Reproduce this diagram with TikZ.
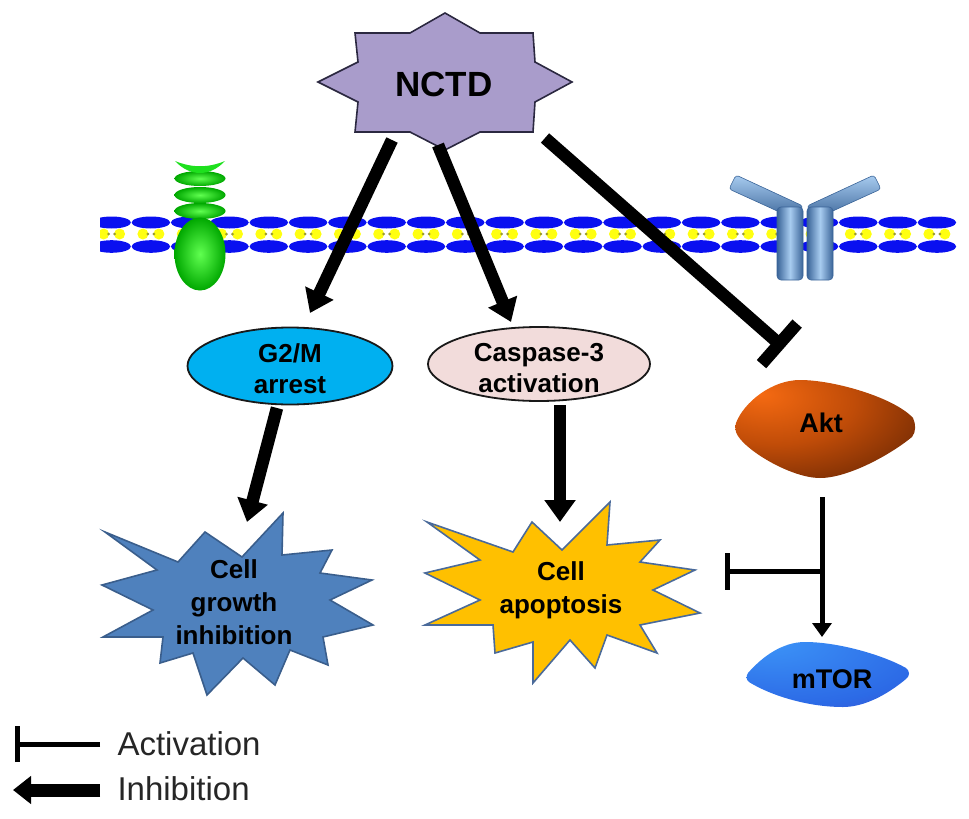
\documentclass[tikz,border=0pt]{standalone}
\usepackage{fontspec}
\setmainfont{Liberation Sans}
\usetikzlibrary{arrows.meta}

\definecolor{nctdfill}{HTML}{A99CCB}
\definecolor{nctdline}{HTML}{2B2840}
\definecolor{g2mfill}{HTML}{00B0F0}
\definecolor{caspfill}{HTML}{F2DCDB}
\definecolor{growfill}{HTML}{4F81BD}
\definecolor{growline}{HTML}{3A5E8C}
\definecolor{apopfill}{HTML}{FFC000}
\definecolor{apopline}{HTML}{4A6A9A}
\definecolor{lipblue}{HTML}{0A10F0}
\definecolor{lipyel}{HTML}{FFFF10}
\definecolor{lipdot}{HTML}{9A9A30}
\definecolor{recg}{HTML}{1EE01E}
\definecolor{recgl}{HTML}{60FF50}
\definecolor{recgd}{HTML}{00A800}
\definecolor{ybh}{HTML}{A8CCF0}
\definecolor{ybm}{HTML}{6A9AD0}
\definecolor{ybd}{HTML}{3A6498}
\definecolor{aktl}{HTML}{F56A12}
\definecolor{aktm}{HTML}{C04C08}
\definecolor{aktd}{HTML}{3C1200}
\definecolor{mtorh}{HTML}{B8E4FF}
\definecolor{mtorl}{HTML}{3A8EF5}
\definecolor{mtorm}{HTML}{2C6AE6}
\definecolor{mtord}{HTML}{4A2EB0}

\pgfdeclareradialshading{aktshade}{\pgfpoint{-18bp}{18bp}}{color(0bp)=(aktl); color(22bp)=(aktm); color(58bp)=(aktd); color(100bp)=(aktd)}
\pgfdeclareradialshading{mtorshade}{\pgfpoint{-20bp}{28bp}}{color(0bp)=(mtorh); color(7bp)=(mtorl); color(40bp)=(mtorm); color(75bp)=(mtord); color(100bp)=(mtord)}

\begin{document}
\begin{tikzpicture}[x=1pt, y=-1pt,
    fat/.style={line width=12.5pt, -{Triangle[width=30pt,length=22pt]}},
    block/.style={line width=12.5pt, -{Bar[width=54pt]}},
    slim/.style={line width=5pt},
    lbl/.style={font=\fontsize{26}{31}\selectfont\bfseries, align=center},
    starlbl/.style={font=\fontsize{26}{33}\selectfont\bfseries, align=center},
    legend/.style={anchor=base west, font=\fontsize{33}{33}\selectfont, text=black!85},
    oval/.style={line width=1.8pt, draw=black!90},
    burst/.style={line width=1.6pt, line join=miter},
    disc/.style={inner color=recgl, outer color=recgd}]

      \useasboundingbox (0,0) rectangle (969,819);

      \begin{scope}
        \clip (100,200) rectangle (958,262);
        \foreach \i in {0,...,21}{
          \pgfmathsetmacro\cx{111.6+39.3*\i}
          \fill[lipblue] (\cx,222.5) ellipse (19.3 and 6);
          \fill[lipblue] (\cx,246.5) ellipse (19.3 and 6.3);
          \fill[lipyel] (\cx-8,234) circle (5.5);
          \fill[lipyel] (\cx+8,234) circle (5.5);
          \fill[lipdot] (\cx-3,234) circle (1.5);
          \fill[lipdot] (\cx+3,234) circle (1.5);
        }
      \end{scope}

      \shade[disc] (200,211) ellipse (25.5 and 8);
      \shade[disc] (200,195) ellipse (25.5 and 8);
      \shade[disc] (200,178.5) ellipse (25.5 and 7.5);
      \fill[recg] (175,161) .. controls (192,168) and (208,168) .. (225,161)
        .. controls (210,177) and (190,177) .. cycle;
      \shade[disc] (200,254) ellipse (25.5 and 36.5);

      \shade[top color=ybh, bottom color=ybd, draw=ybd, line width=0.6pt, rounded corners=3pt]
        (736,175) -- (803,206) -- (797,220) -- (729,189) -- cycle;
      \shade[top color=ybh, bottom color=ybd, draw=ybd, line width=0.6pt, rounded corners=3pt]
        (874,175) -- (807,206) -- (813,220) -- (881,189) -- cycle;
      \shade[left color=ybd, right color=ybd, middle color=ybh, draw=ybd, line width=0.6pt, rounded corners=4pt]
        (777,207) rectangle (803,280);
      \shade[left color=ybd, right color=ybd, middle color=ybh, draw=ybd, line width=0.6pt, rounded corners=4pt]
        (807,207) rectangle (833,280);

      \filldraw[burst, fill=nctdfill, draw=nctdline] (445,13) -- (480,33) -- (533,33) -- (535,62) -- (572,82)
        -- (535,102) -- (533,132) -- (480,132) -- (445,150) -- (410,132) -- (355,132) -- (358,102)
        -- (318,82) -- (358,62) -- (355,33) -- (410,33) -- cycle;
      \node[font=\fontsize{35}{40}\selectfont\bfseries] (nctd) at (444,84) {NCTD};

      \filldraw[oval, fill=g2mfill] (290,366) ellipse (102.5 and 38.5);
      \node[lbl] (g2m) at (290,369) {G2/M\\arrest};

      \filldraw[oval, fill=caspfill] (539,364) ellipse (111 and 37);
      \node[lbl] (casp) at (539,368) {Caspase-3\\activation};

      \filldraw[burst, fill=growfill, draw=growline] (105,532) -- (178,562) -- (205,532) -- (242,557)
        -- (283,513) -- (282,555) -- (332,550) -- (320,573) -- (372,580) -- (330,600) -- (373,625)
        -- (323,637) -- (328,665) -- (290,650) -- (275,685) -- (243,658) -- (207,695) -- (193,653)
        -- (160,663) -- (163,637) -- (103,637) -- (153,610) -- (102,585) -- (157,570) -- cycle;
      \node[starlbl] (grow) at (234,602) {Cell\\growth\\inhibition};

      \filldraw[burst, fill=apopfill, draw=apopline] (427,522) -- (513,552) -- (532,522) -- (562,550)
        -- (610,502) -- (607,545) -- (660,540) -- (640,562) -- (695,570) -- (653,590) -- (700,613)
        -- (640,625) -- (657,653) -- (607,635) -- (595,668) -- (570,640) -- (533,683) -- (533,642)
        -- (495,653) -- (493,625) -- (425,625) -- (480,600) -- (425,573) -- (480,560) -- cycle;
      \node[starlbl] (apop) at (561,590) {Cell\\apoptosis};

      \shade[shading=aktshade] (736,423) .. controls (744,402) and (772,380) .. (800,380)
        .. controls (835,380) and (895,398) .. (913,418) .. controls (916,424) and (916,432) .. (912,437)
        .. controls (890,455) and (848,478) .. (820,478) .. controls (792,478) and (748,452) .. (738,436)
        .. controls (735,432) and (735,427) .. cycle;
      \node[font=\fontsize{27}{30}\selectfont\bfseries] (akt) at (821,423) {Akt};

      \shade[shading=mtorshade] (748,673) .. controls (762,657) and (782,642) .. (805,642)
        .. controls (840,642) and (885,656) .. (906,668) .. controls (910,671) and (910,676) .. (906,679)
        .. controls (888,694) and (865,707) .. (843,707) .. controls (805,707) and (768,694) .. (749,682)
        .. controls (746,680) and (746,676) .. cycle;
      \node[font=\fontsize{27}{30}\selectfont\bfseries] (mtor) at (832,679) {mTOR};

      \coordinate (n1) at (392,140);
      \coordinate (n2) at (438,145);
      \coordinate (n3) at (545,138);
      \coordinate (g1) at (310,313);
      \coordinate (c1) at (511,322);
      \coordinate (a1) at (784,348);
      \coordinate (g2) at (277,408);
      \coordinate (w1) at (247,522);
      \coordinate (c2) at (560,405);
      \coordinate (p1) at (560,522);
      \coordinate (k1) at (822,497);
      \coordinate (m1) at (822,637);
      \coordinate (br) at (822,571);
      \coordinate (bt) at (725,571);

      \draw (n1) edge[fat] (g1);
      \draw (n2) edge[fat] (c1);
      \draw (n3) edge[block] (a1);
      \draw (g2) edge[fat] (w1);
      \draw (c2) edge[fat] (p1);
      \draw (k1) edge[slim, -{Triangle[width=19pt,length=14pt]}] (m1);
      \draw (br) edge[slim, -{Bar[width=37pt]}] (bt);

      \coordinate (la0) at (100,744);
      \coordinate (la1) at (15,744);
      \coordinate (lb0) at (100,790);
      \coordinate (lb1) at (13,790);
      \draw (la0) edge[slim, -{Bar[width=36pt]}] (la1);
      \draw (lb0) edge[line width=13pt, -{Triangle[width=27pt,length=18pt]}] (lb1);
      \node[legend] (lact) at (114,755) {Activation};
      \node[legend] (linh) at (114,800) {Inhibition};

    \end{tikzpicture}
\end{document}
